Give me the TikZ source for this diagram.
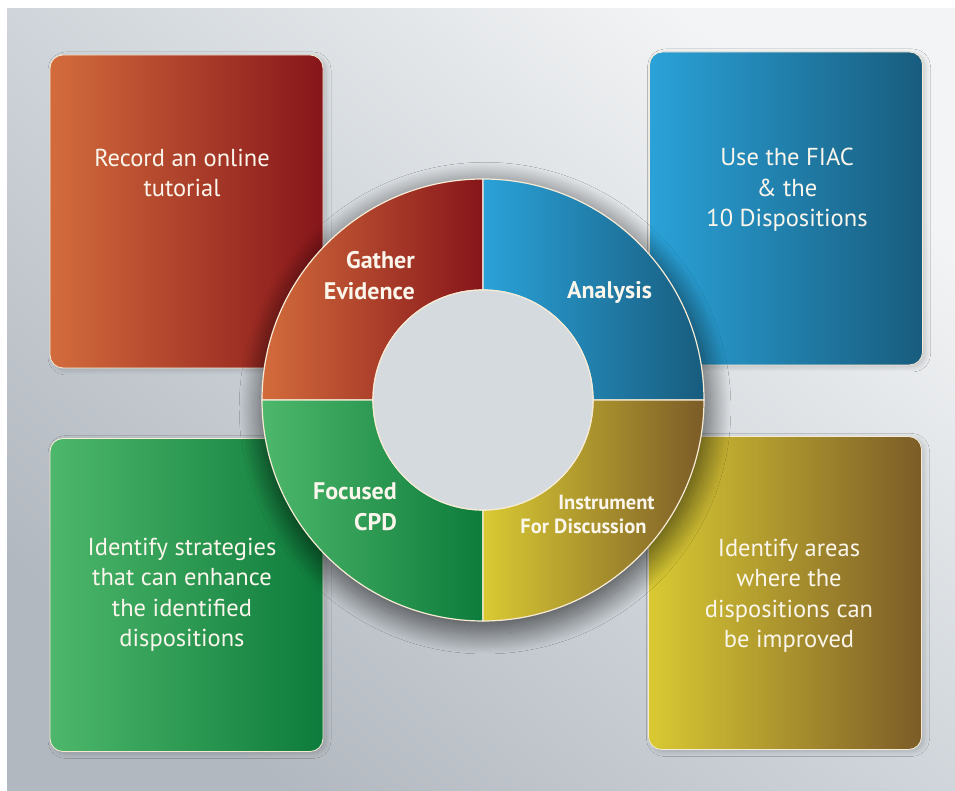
\documentclass[tikz,border=0pt]{standalone}
\usepackage{fontspec}
\setmainfont{PT Sans}
\usetikzlibrary{shadows.blur}
\definecolor{bgTR}{HTML}{F3F4F5}
\definecolor{bgM}{HTML}{CFD5DA}
\definecolor{bgBL}{HTML}{B2B8BF}
\definecolor{redL}{HTML}{D36C3C}
\definecolor{redR}{HTML}{86151A}
\definecolor{bluL}{HTML}{2AA2D8}
\definecolor{bluR}{HTML}{185C7E}
\definecolor{grnL}{HTML}{4DB86B}
\definecolor{grnR}{HTML}{0D7B3B}
\definecolor{gldL}{HTML}{D9CA33}
\definecolor{gldR}{HTML}{7B5C28}
\definecolor{cream}{HTML}{F7EBD6}
\definecolor{txt}{HTML}{FBF6EC}
\definecolor{holeIn}{HTML}{D5DADF}
\definecolor{holeOut}{HTML}{B9BEC5}
\pgfdeclareradialshading{holeshade}{\pgfpoint{0bp}{0bp}}{color(0bp)=(holeIn); color(41bp)=(holeIn); color(50bp)=(holeOut)}
\tikzset{
  card/.style={rounded corners=13pt, draw=cream, line width=0.8pt,
    minimum width=273pt, minimum height=313pt, inner sep=0pt,
    blur shadow={shadow xshift=3pt, shadow yshift=-2pt, shadow blur radius=5pt, shadow blur steps=20, shadow opacity=18}},
  seg/.style={draw=cream, line width=1.2pt},
  cardtext/.style={text=txt, align=center, anchor=base, inner sep=0pt,
    font=\fontsize{24.5}{30.5}\selectfont},
  ringtext/.style={text=txt, anchor=base, inner sep=0pt,
    font=\bfseries\fontsize{24}{31}\selectfont},
  smallring/.style={text=txt, anchor=base, inner sep=0pt,
    font=\bfseries\fontsize{20.5}{24}\selectfont},
}
\begin{document}
\begin{tikzpicture}[x=1pt,y=1pt]
\useasboundingbox (0,0) rectangle (955,791);
\fill[white] (0,0) rectangle (955,791);
\shade[shading=axis, top color=bgTR, bottom color=bgBL, middle color=bgM, shading angle=-40] (7,0) rectangle (955,782);

% cards
\node[card, left color=redL, right color=redR] (rbox) at (186.5,579.5) {};
\node[card, left color=bluL, right color=bluR] (bbox) at (786,582.5) {};
\node[card, left color=grnL, right color=grnR] (gbox) at (186.5,196) {};
\node[card, left color=gldL, right color=gldR] (ybox) at (785,198) {};

\node[cardtext] (rtext) at (182,594) {Record an online\\tutorial};
\node[cardtext] (btext) at (787,564) {Use the FIAC\\\& the\\10 Dispositions};
\node[cardtext] (gtext) at (182,144) {Identify strategies\\that can enhance\\the identified\\dispositions};
\node[cardtext] (ytext) at (789,143) {Identify areas\\where the\\dispositions can\\be improved};

% ring
\coordinate (C) at (483,391);
\path[blur shadow={shadow xshift=2pt, shadow yshift=-8pt, shadow blur radius=20pt, shadow blur steps=40, shadow opacity=60, shadow scale=1.02}] (C) circle (221);

\path[seg, left color=redL, right color=redR]
  ([shift={(90:221)}]C) arc[start angle=90, end angle=180, radius=221]
  -- ([shift={(180:110)}]C) arc[start angle=180, end angle=90, radius=110] -- cycle;
\path[seg, left color=bluL, right color=bluR]
  ([shift={(0:221)}]C) arc[start angle=0, end angle=90, radius=221]
  -- ([shift={(90:110)}]C) arc[start angle=90, end angle=0, radius=110] -- cycle;
\path[seg, left color=grnL, right color=grnR]
  ([shift={(180:221)}]C) arc[start angle=180, end angle=270, radius=221]
  -- ([shift={(270:110)}]C) arc[start angle=270, end angle=180, radius=110] -- cycle;
\path[seg, left color=gldL, right color=gldR]
  ([shift={(270:221)}]C) arc[start angle=270, end angle=360, radius=221]
  -- ([shift={(0:110)}]C) arc[start angle=360, end angle=270, radius=110] -- cycle;

\path[shading=holeshade, draw=cream, line width=1.2pt] (C) circle (110);

\node[ringtext, align=right, anchor=base east] (gather) at (415,491) {Gather\\Evidence};
\node[ringtext] (analysis) at (609.5,492) {Analysis};
\node[ringtext, align=right, anchor=base east] (focused) at (397,260) {Focused\\CPD};
\node[smallring] (instr) at (606.5,281) {Instrument};
\node[smallring] (fordisc) at (583.5,257) {For Discussion};
\end{tikzpicture}
\end{document}
